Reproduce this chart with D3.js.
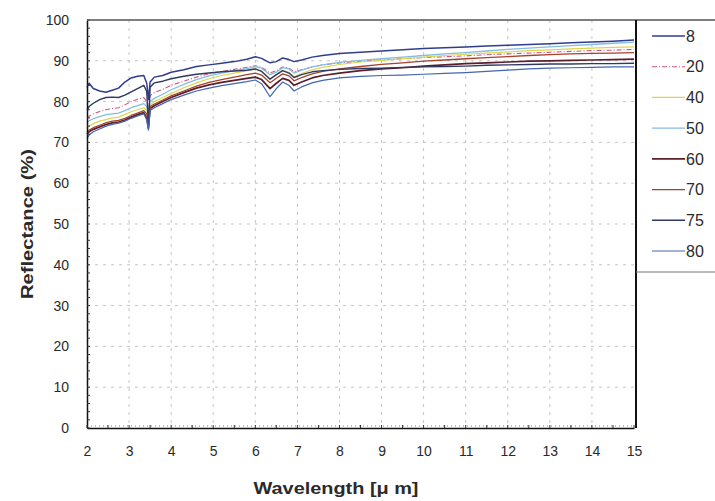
<!DOCTYPE html>
<html>
<head>
<meta charset="utf-8">
<script src="https://cdn.jsdelivr.net/npm/d3@7/dist/d3.min.js"></script>
<style>
  html, body { margin: 0; padding: 0; background: #ffffff; }
  svg { display: block; }
  text { font-family: "Liberation Sans", Arial, sans-serif; fill: #2a2a2a; }
</style>
</head>
<body>
<svg id="chart" width="715" height="501"></svg>
<script>
// Wavelength samples (µm)
const wavelength = [2, 2.05, 2.15, 2.3, 2.45, 2.6, 2.75, 2.9, 3.05, 3.2, 3.35, 3.42, 3.46, 3.5, 3.6, 3.8,
  4.0, 4.3, 4.6, 4.9, 5.2, 5.5, 5.8, 6.0, 6.15, 6.35, 6.5, 6.65, 6.8, 6.92, 7.1, 7.35, 7.6, 8.0,
  8.5, 9.0, 9.5, 10.0, 10.5, 11.0, 11.5, 12.0, 12.5, 13.0, 13.5, 14.0, 14.5, 15];

// Reflectance (%) per sample
const r8  = [83.5, 84.5, 83.2, 82.6, 82.3, 82.8, 83.3, 84.8, 85.8, 86.2, 86.4, 84.5, 80.5, 84.8, 86.0, 86.4,
  87.2, 87.8, 88.6, 89.0, 89.4, 89.8, 90.4, 91.0, 90.6, 89.5, 89.8, 90.7, 90.3, 89.8, 90.2, 90.9, 91.3, 91.8,
  92.1, 92.4, 92.7, 93.0, 93.2, 93.4, 93.6, 93.8, 94.0, 94.2, 94.4, 94.6, 94.8, 95.1];
const r20 = [76.0, 76.4, 77.0, 77.6, 78.0, 78.3, 78.5, 79.2, 80.0, 80.6, 81.0, 80.0, 77.5, 81.5, 82.2, 83.0,
  84.0, 85.0, 86.0, 86.8, 87.4, 87.9, 88.4, 88.8, 88.4, 87.0, 87.6, 88.5, 88.2, 87.3, 87.8, 88.5, 89.0, 89.5,
  89.9, 90.2, 90.5, 90.8, 91.0, 91.2, 91.5, 91.7, 91.9, 92.1, 92.3, 92.5, 92.6, 92.8];
const r40 = [73.5, 74.0, 74.6, 75.2, 75.6, 76.0, 76.2, 76.8, 77.5, 78.0, 78.5, 77.8, 75.5, 79.2, 80.0, 81.0,
  82.0, 83.4, 84.6, 85.6, 86.4, 87.0, 87.6, 88.0, 87.5, 85.6, 86.5, 87.6, 87.2, 86.1, 86.9, 87.8, 88.4, 89.1,
  89.7, 90.1, 90.5, 90.9, 91.3, 91.6, 91.9, 92.2, 92.5, 92.7, 92.9, 93.1, 93.3, 93.4];
const r50 = [75.0, 75.3, 75.8, 76.3, 76.8, 77.0, 77.2, 77.8, 78.5, 79.0, 79.5, 78.8, 76.5, 80.0, 80.8, 81.8,
  82.9, 84.2, 85.4, 86.3, 87.0, 87.6, 88.1, 88.6, 88.2, 86.6, 87.2, 88.3, 88.0, 87.0, 87.7, 88.5, 89.0, 89.6,
  90.1, 90.5, 90.9, 91.3, 91.7, 92.0, 92.4, 92.8, 93.1, 93.4, 93.7, 94.0, 94.3, 94.6];
const r60 = [72.0, 72.6, 73.2, 73.8, 74.4, 74.8, 75.0, 75.5, 76.2, 76.8, 77.3, 76.0, 73.5, 78.3, 79.0, 80.0,
  81.0, 82.2, 83.3, 84.1, 84.7, 85.2, 85.7, 86.0, 85.4, 83.2, 84.5, 85.7, 85.2, 84.0, 84.8, 85.8, 86.4, 87.0,
  87.6, 88.0, 88.3, 88.7, 89.0, 89.3, 89.5, 89.7, 89.9, 90.0, 90.1, 90.2, 90.3, 90.4];
const r70 = [72.5, 73.0, 73.6, 74.2, 74.8, 75.2, 75.4, 75.9, 76.6, 77.2, 77.8, 77.0, 74.5, 78.8, 79.4, 80.4,
  81.4, 82.6, 83.8, 84.7, 85.4, 86.0, 86.6, 87.0, 86.5, 84.6, 85.7, 86.8, 86.3, 85.1, 85.9, 86.8, 87.4, 88.0,
  88.6, 89.1, 89.5, 89.9, 90.2, 90.5, 90.8, 91.0, 91.3, 91.5, 91.7, 91.8, 91.9, 92.0];
const r75 = [78.0, 78.8, 79.6, 80.5, 81.0, 81.1, 81.0, 81.6, 82.4, 83.2, 84.0, 82.5, 74.0, 83.5, 84.6, 85.0,
  85.6, 86.2, 86.7, 87.0, 87.3, 87.5, 87.7, 88.0, 87.4, 85.5, 86.6, 87.6, 87.0, 85.9, 86.6, 87.3, 87.6, 87.9,
  88.1, 88.2, 88.4, 88.5, 88.6, 88.7, 88.9, 89.0, 89.1, 89.2, 89.2, 89.3, 89.3, 89.4];
const r80 = [71.0, 71.8, 72.6, 73.3, 74.0, 74.4, 74.7, 75.2, 75.9, 76.5, 77.0, 75.5, 73.0, 77.8, 78.5, 79.5,
  80.5, 81.6, 82.6, 83.3, 83.9, 84.4, 84.9, 85.3, 84.4, 81.2, 83.2, 84.8, 84.0, 82.6, 83.6, 84.6, 85.2, 85.8,
  86.2, 86.4, 86.5, 86.7, 86.9, 87.1, 87.4, 87.7, 88.0, 88.2, 88.3, 88.4, 88.5, 88.5];

const seriesNames = ["8", "20", "40", "50", "60", "70", "75", "80"];
const seriesValues = [r8, r20, r40, r50, r60, r70, r75, r80];
const seriesColors = ["#2f3d8f", "#d4557e", "#d9d84c", "#84bde3", "#5b1f2c", "#a4432d", "#2e3a62", "#4166b2"];
const seriesDash = [null, "5,2,1,2", null, null, null, null, null, null];
const seriesWidth = [1.5, 1.1, 1.2, 1.3, 1.7, 1.3, 1.4, 1.2];

const xTicks = [2, 3, 4, 5, 6, 7, 8, 9, 10, 11, 12, 13, 14, 15];
const yTicks = [0, 10, 20, 30, 40, 50, 60, 70, 80, 90, 100];

const svg = d3.select("#chart");
const plot = { left: 87, right: 636, top: 20, bottom: 428 };

const x = d3.scaleLinear().domain([2, 15]).range([plot.left, plot.right - 2]);
const y = d3.scaleLinear().domain([0, 100]).range([plot.bottom, plot.top]);

// Dashed grid
const grid = svg.append("g");
grid.selectAll("line.gx").data(xTicks.slice(1, -1)).join("line")
  .attr("x1", d => x(d)).attr("x2", d => x(d))
  .attr("y1", plot.top).attr("y2", plot.bottom)
  .attr("stroke", "#c4c4c4").attr("stroke-width", 1).attr("stroke-dasharray", "3,5");
grid.selectAll("line.gy").data(yTicks.slice(1, -1)).join("line")
  .attr("x1", plot.left).attr("x2", plot.right)
  .attr("y1", d => y(d)).attr("y2", d => y(d))
  .attr("stroke", "#c4c4c4").attr("stroke-width", 1).attr("stroke-dasharray", "3,5");

// Dotted baseline just above the x axis
svg.append("line")
  .attr("x1", plot.left).attr("x2", plot.right)
  .attr("y1", y(0) - 2).attr("y2", y(0) - 2)
  .attr("stroke", "#7a84b0").attr("stroke-width", 1).attr("stroke-dasharray", "1,3");

// Spectra
const line = d3.line().x((d, i) => x(wavelength[i])).y(d => y(d));
const lines = svg.append("g");
seriesValues.forEach((vals, k) => {
  lines.append("path")
    .attr("d", line(vals))
    .attr("fill", "none")
    .attr("stroke", seriesColors[k])
    .attr("stroke-width", seriesWidth[k])
    .attr("stroke-dasharray", seriesDash[k])
    .attr("stroke-linejoin", "round");
});

// Axes
const xAxis = d3.axisBottom(x).tickValues(xTicks).tickSize(0).tickPadding(18).tickFormat(d3.format("d"));
const gx = svg.append("g").attr("transform", `translate(0,${plot.bottom})`).call(xAxis);
gx.select(".domain").attr("stroke", "#111").attr("stroke-width", 1.5);
gx.selectAll("text").style("font-size", "14px").style("font-family", "Liberation Sans, Arial, sans-serif").attr("fill", "#2a2a2a");

const yAxis = d3.axisLeft(y).tickValues(yTicks).tickSize(0).tickPadding(18);
const gy = svg.append("g").attr("transform", `translate(${plot.left},0)`).call(yAxis);
gy.select(".domain").attr("stroke", "#111").attr("stroke-width", 1.5);
gy.selectAll("text").style("font-size", "14px").style("font-family", "Liberation Sans, Arial, sans-serif").attr("fill", "#2a2a2a");

// Minor ticks inside both axes
const yMinor = d3.range(0, 100.1, 2);
svg.append("g").selectAll("line").data(yMinor).join("line")
  .attr("x1", plot.left).attr("x2", plot.left + 3)
  .attr("y1", d => y(d)).attr("y2", d => y(d))
  .attr("stroke", "#333").attr("stroke-width", 1);
const xMinor = d3.range(2, 15.01, 0.5);
svg.append("g").selectAll("line").data(xMinor).join("line")
  .attr("x1", d => x(d)).attr("x2", d => x(d))
  .attr("y1", plot.bottom).attr("y2", plot.bottom - 3)
  .attr("stroke", "#333").attr("stroke-width", 1);

// Frame: top edge and right edge (shared with legend)
svg.append("line").attr("x1", plot.left).attr("x2", 715).attr("y1", plot.top).attr("y2", plot.top)
  .attr("stroke", "#555").attr("stroke-width", 1.5);
svg.append("line").attr("x1", plot.right).attr("x2", plot.right).attr("y1", plot.top).attr("y2", plot.bottom)
  .attr("stroke", "#111").attr("stroke-width", 2);

// Legend
const legend = svg.append("g");
legend.append("line").attr("x1", plot.right).attr("x2", 715).attr("y1", 272).attr("y2", 272)
  .attr("stroke", "#777").attr("stroke-width", 1);
const legendY = d3.scaleLinear().domain([0, 7]).range([36, 251]);
seriesNames.forEach((name, k) => {
  const ly = legendY(k);
  legend.append("line")
    .attr("x1", 652).attr("x2", 685).attr("y1", ly).attr("y2", ly)
    .attr("stroke", seriesColors[k]).attr("stroke-width", seriesWidth[k])
    .attr("stroke-dasharray", seriesDash[k]);
  legend.append("text")
    .attr("x", 686).attr("y", ly).attr("dy", "0.36em")
    .style("font-size", "16px").text(name);
});

// Axis titles
svg.append("text")
  .attr("x", 336).attr("y", 494).attr("text-anchor", "middle")
  .attr("textLength", 165).attr("lengthAdjust", "spacingAndGlyphs")
  .style("font-size", "17px").style("font-weight", "bold")
  .text("Wavelength [μ m]");
svg.append("text")
  .attr("transform", "translate(33,224) rotate(-90)").attr("text-anchor", "middle")
  .attr("textLength", 150).attr("lengthAdjust", "spacingAndGlyphs")
  .style("font-size", "16px").style("font-weight", "bold")
  .text("Reflectance (%)");
</script>
</body>
</html>
